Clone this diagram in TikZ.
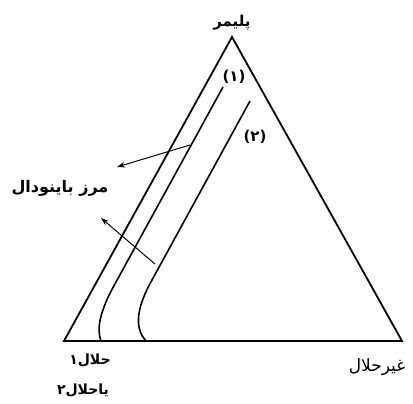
\documentclass[tikz,border=0pt]{standalone}
\usepackage{fontspec}
\usetikzlibrary{arrows.meta}
\newfontfamily\fa[Script=Arabic]{DejaVu Sans}
\newfontfamily\fanum{DejaVu Sans}
\TeXXeTstate=1
\begin{document}
\begin{tikzpicture}[x=1pt,y=-1pt,
  edge/.style={line width=1.8pt, line join=miter},
  bound/.style={line width=1.6pt},
  pointer/.style={line width=1pt,-{Stealth[length=8pt,width=5.5pt]}},
  lab/.style={font=\fa\bfseries, inner sep=0pt},
  labl/.style={font=\fa, inner sep=0pt},
  num/.style={font=\fanum\bfseries\fontsize{15}{17}\selectfont, inner sep=0pt}]
\useasboundingbox (0,0) rectangle (413,404);
% triangle
\coordinate (A) at (232,37);
\coordinate (L) at (64,341);
\coordinate (R) at (402,341);
\draw[edge] (A) -- (R) -- (L) -- cycle;
% binodal curves
\coordinate (c1t) at (223,87);
\coordinate (c1m) at (116,282);
\coordinate (c1b) at (101,341);
\coordinate (c2t) at (250,101);
\coordinate (c2m) at (152,280);
\coordinate (c2b) at (146,341);
\draw[bound] (c1t) -- (c1m) .. controls (98,314) and (97,330) .. (c1b);
\draw[bound] (c2t) -- (c2m) .. controls (134,312) and (136,330) .. (c2b);
% arrows
\coordinate (a1s) at (190,145);
\coordinate (a1e) at (117,167);
\coordinate (a2s) at (155,264);
\coordinate (a2e) at (101,218);
\draw[pointer] (a1s) -- (a1e);
\draw[pointer] (a2s) -- (a2e);
% labels
\node[lab, font=\fa\bfseries\fontsize{15}{17}\selectfont] (poly) at (232,23) {\beginR پلیمر\endR};
\node[num] (n1) at (234,77) {(۱)};
\node[num] (n2) at (255,137) {(۲)};
\node[lab, font=\fa\bfseries\fontsize{16}{18}\selectfont] (bin) at (60,188) {\beginR مرز باینودال\endR};
\node[lab, font=\fa\bfseries\fontsize{14}{16}\selectfont] (s1) at (90,360) {\beginR حلال۱\endR};
\node[lab, font=\fa\bfseries\fontsize{14}{16}\selectfont] (s2) at (83,390) {\beginR یاحلال۲\endR};
\node[labl, font=\fa\fontsize{17}{19}\selectfont] (ns) at (377,367) {\beginR غیرحلال\endR};
\end{tikzpicture}
\end{document}
